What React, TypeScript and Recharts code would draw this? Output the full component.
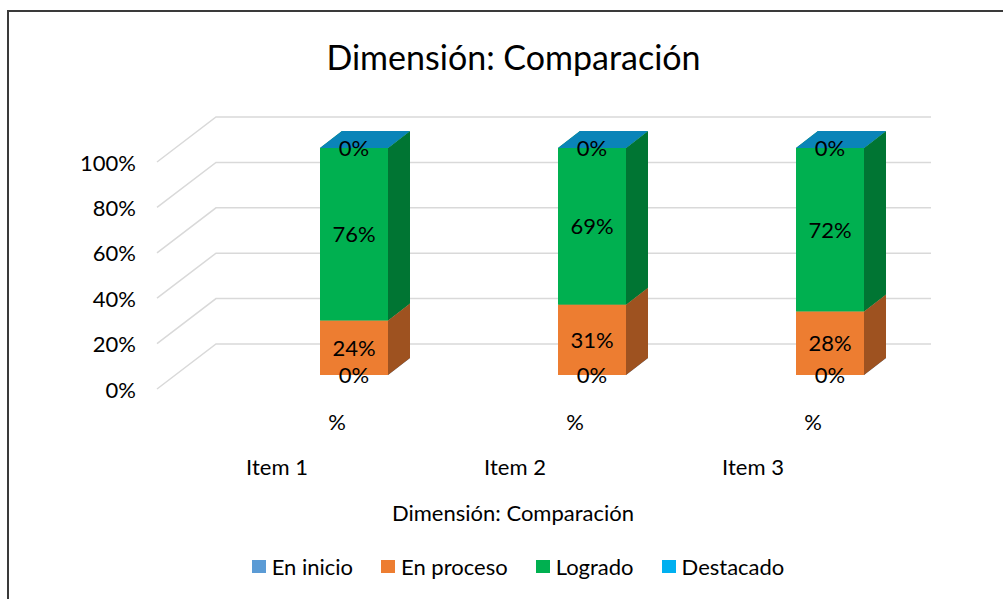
import React from "react";
import { BarChart, Bar, XAxis, YAxis, CartesianGrid, LabelList, Legend } from "recharts";

const items = ["Item 1", "Item 2", "Item 3"];
const innerLabel = "%";
const enInicio = [0, 0, 0];
const enProceso = [24, 31, 28];
const logrado = [76, 69, 72];
const destacado = [0, 0, 0];
const yTicks = [0, 20, 40, 60, 80, 100];
const seriesNames = ["En inicio", "En proceso", "Logrado", "Destacado"];
const title = "Dimensión: Comparación";
const axisTitle = "Dimensión: Comparación";

const data = items.map((it, i) => ({
  item: it,
  inicio: enInicio[i],
  proceso: enProceso[i],
  logrado: logrado[i],
  destacado: destacado[i],
}));

const FONT = "Lato, Carlito, Calibri, sans-serif";
const DX = 22;
const DY = 17;

const palette = [
  { key: "inicio", front: "#5B9BD5", side: "#3A6E9E", top: "#4A85BD" },
  { key: "proceso", front: "#ED7D31", side: "#9E5220", top: "#C4682A" },
  { key: "logrado", front: "#00B050", side: "#007533", top: "#009644" },
  { key: "destacado", front: "#00B0F0", side: "#0080B0", top: "#0A84B8" },
];

const make3D = (c: { front: string; side: string; top: string }) => (props: any) => {
  const { x, y, width, height } = props;
  if (x == null || y == null) return <g />;
  const w = width;
  const h = Math.max(0, height);
  return (
    <g>
      <polygon
        points={`${x},${y} ${x + w},${y} ${x + w + DX},${y - DY} ${x + DX},${y - DY}`}
        fill={c.top}
      />
      <polygon
        points={`${x + w},${y} ${x + w + DX},${y - DY} ${x + w + DX},${y + h - DY} ${x + w},${y + h}`}
        fill={c.side}
      />
      <rect x={x} y={y} width={w} height={h} fill={c.front} />
    </g>
  );
};

const gridLine = (props: any) => {
  const y = props.y1;
  return (
    <polyline
      key={`g-${props.index}`}
      points={`157,${y + 14} 216,${y - 31} 931,${y - 31}`}
      fill="none"
      stroke="#D9D9D9"
      strokeWidth={1.5}
    />
  );
};

const YTick = (props: any) => {
  const { y, payload } = props;
  return (
    <text x={136} y={y + 14} textAnchor="end" dominantBaseline="central" fontFamily={FONT} fontSize={22} fill="#000">
      {`${payload.value}%`}
    </text>
  );
};

const XTick = (props: any) => {
  const { x, payload } = props;
  return (
    <g>
      <text x={x - 17} y={421} textAnchor="middle" dominantBaseline="central" fontFamily={FONT} fontSize={22} fill="#000">
        {innerLabel}
      </text>
      <text x={x - 77} y={466} textAnchor="middle" dominantBaseline="central" fontFamily={FONT} fontSize={22} fill="#000">
        {payload.value}
      </text>
    </g>
  );
};

const LegendContent = () => (
  <div style={{ display: "flex", justifyContent: "center", gap: 28, fontFamily: FONT, fontSize: 22, color: "#000" }}>
    {seriesNames.map((n, i) => (
      <div key={n} style={{ display: "flex", alignItems: "center", gap: 6 }}>
        <div style={{ width: 14, height: 13, background: palette[i].front }} />
        <span>{n}</span>
      </div>
    ))}
  </div>
);

export default function App() {
  return (
    <div style={{ position: "absolute", left: 0, top: 0, width: 1003, height: 599, overflow: "hidden", background: "#fff" }}>
      <div
        style={{
          position: "absolute",
          left: 7,
          top: 10,
          width: 1100,
          height: 700,
          borderLeft: "2px solid #3a3a3a",
          borderTop: "2px solid #3a3a3a",
        }}
      />
      <div
        style={{
          position: "absolute",
          left: 0,
          width: 1027,
          top: 37,
          textAlign: "center",
          fontFamily: FONT,
          fontSize: 34,
          lineHeight: "40px",
          color: "#000",
        }}
      >
        {title}
      </div>
      <div
        style={{
          position: "absolute",
          left: 0,
          width: 1026,
          top: 499,
          textAlign: "center",
          fontFamily: FONT,
          fontSize: 22,
          lineHeight: "28px",
          color: "#000",
        }}
      >
        {axisTitle}
      </div>
      <div style={{ position: "absolute", left: 0, top: 0 }}>
        <BarChart width={1003} height={599} data={data} margin={{ top: 148, right: 54, left: 135, bottom: 194 }}>
          <CartesianGrid vertical={false} horizontal={gridLine} />
          <XAxis dataKey="item" height={30} axisLine={false} tickLine={false} tick={<XTick />} interval={0} />
          <YAxis width={100} domain={[0, 100]} ticks={yTicks} axisLine={false} tickLine={false} tick={<YTick />} interval={0} />
          <Legend
            layout="horizontal"
            verticalAlign="middle"
            align="center"
            content={<LegendContent />}
            wrapperStyle={{ position: "absolute", left: 0, top: 553, width: 1036 }}
          />
          {palette.map((c, i) => (
            <Bar key={c.key} dataKey={c.key} name={seriesNames[i]} stackId="a" barSize={68} isAnimationActive={false} shape={make3D(c)}>
              <LabelList
                dataKey={c.key}
                position="center"
                formatter={(v: any) => `${v}%`}
                fontFamily={FONT}
                fontSize={22}
                fill="#000"
              />
            </Bar>
          ))}
        </BarChart>
      </div>
    </div>
  );
}
